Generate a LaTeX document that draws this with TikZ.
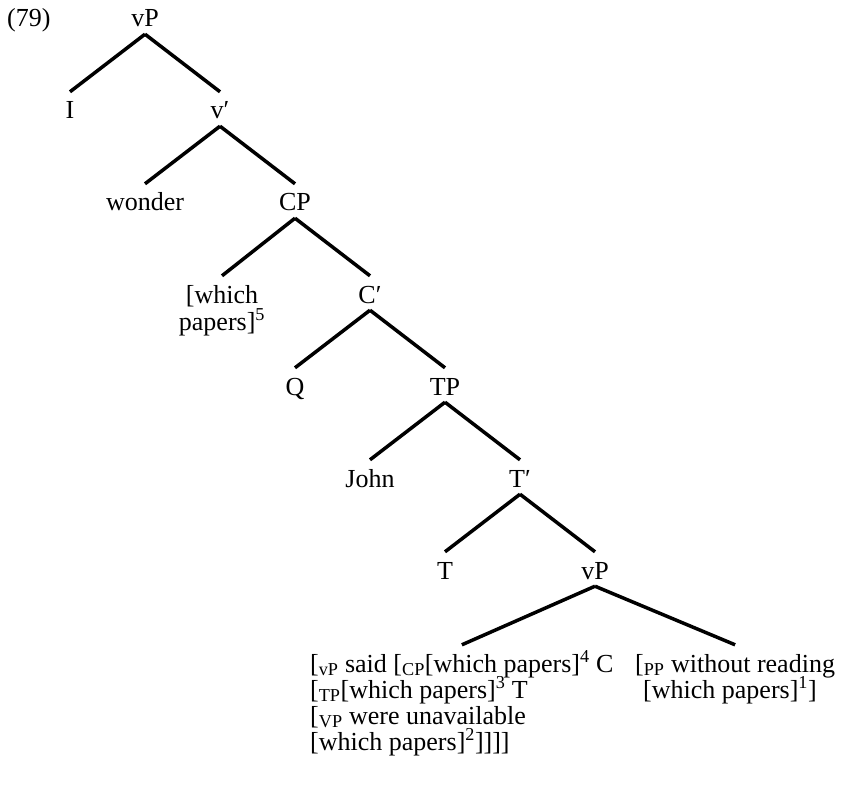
\documentclass[tikz,border=0pt]{standalone}
\usepackage{fontspec}
\setmainfont{Liberation Serif}
\newcommand\tightlines{\lineskiplimit=-20pt\relax}
\begin{document}
\begin{tikzpicture}[x=1pt,y=-1pt,
  lab/.style={anchor=base,inner xsep=0pt,inner ysep=7pt,text height=20pt,text depth=0pt,font={\fontsize{26}{27}\selectfont\tightlines}},
  blk/.style={anchor=base west,inner sep=0pt,text depth=0pt,align=left,font={\fontsize{26}{26}\selectfont\tightlines}},
  edge/.style={line width=3.5pt}]
\useasboundingbox (0,0) rectangle (842,786);
\node[anchor=base west,inner sep=0pt,font={\fontsize{26}{27}\selectfont}] (num) at (7,27) {(79)};
\node[lab] (vp1) at (145,27) {vP};
\node[lab] (i) at (70,119) {I};
\node[lab] (v1) at (220,119) {v′};
\node[lab] (wonder) at (145,211) {wonder};
\node[lab] (cp) at (295,211) {CP};
\node[lab,align=center,text height=47pt] (wp5) at (222,330) {[which\\papers]\textsuperscript{5}};
\node[lab] (c1) at (370,303) {C′};
\node[lab] (q) at (295,395) {Q};
\node[lab] (tp) at (445,395) {TP};
\node[lab] (john) at (370,487) {John};
\node[lab] (t1) at (520,487) {T′};
\node[lab] (t) at (445,579) {T};
\node[lab] (vp2) at (595,579) {vP};
\node[blk,text height=105pt] (left) at (310,750) {[\textsubscript{vP} said [\textsubscript{CP}[which papers]\textsuperscript{4} C\\{}[\textsubscript{TP}[which papers]\textsuperscript{3} T\\{}[\textsubscript{VP} were unavailable\\{}[which papers]\textsuperscript{2}]]]]};
\node[blk,text height=53pt] (right) at (635,698) {[\textsubscript{PP} without reading\\\hspace*{8pt}[which papers]\textsuperscript{1}]};
\draw[edge] (vp1.south) -- (i.north);
\draw[edge] (vp1.south) -- (v1.north);
\draw[edge] (v1.south) -- (wonder.north);
\draw[edge] (v1.south) -- (cp.north);
\draw[edge] (cp.south) -- (wp5.north);
\draw[edge] (cp.south) -- (c1.north);
\draw[edge] (c1.south) -- (q.north);
\draw[edge] (c1.south) -- (tp.north);
\draw[edge] (tp.south) -- (john.north);
\draw[edge] (tp.south) -- (t1.north);
\draw[edge] (t1.south) -- (t.north);
\draw[edge] (t1.south) -- (vp2.north);
\draw[edge] (vp2.south) -- (left.north);
\draw[edge] (vp2.south) -- (right.north);
\end{tikzpicture}
\end{document}
